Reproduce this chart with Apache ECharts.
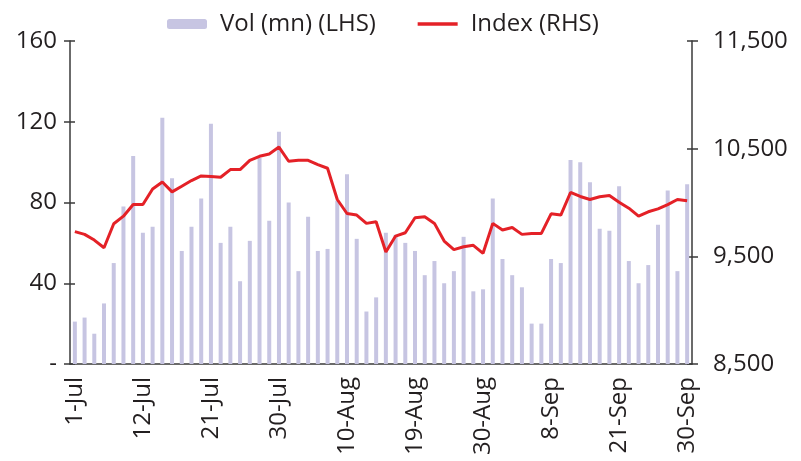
<!DOCTYPE html>
<html>
<head>
<meta charset="utf-8">
<script src="https://cdn.jsdelivr.net/npm/echarts@6/dist/echarts.min.js"></script>
<style>
  html, body { margin: 0; padding: 0; background: #fff; }
  #main { width: 801px; height: 461px; }
</style>
</head>
<body>
<div id="main"></div>
<script>
// trading days, 1-Jul to 30-Sep
var dates = [
  '1-Jul','2-Jul','5-Jul','6-Jul','7-Jul','8-Jul','9-Jul',
  '12-Jul','13-Jul','14-Jul','15-Jul','16-Jul','19-Jul','20-Jul',
  '21-Jul','22-Jul','23-Jul','26-Jul','27-Jul','28-Jul','29-Jul',
  '30-Jul','2-Aug','3-Aug','4-Aug','5-Aug','6-Aug','9-Aug',
  '10-Aug','11-Aug','12-Aug','13-Aug','16-Aug','17-Aug','18-Aug',
  '19-Aug','20-Aug','23-Aug','24-Aug','25-Aug','26-Aug','27-Aug',
  '30-Aug','31-Aug','1-Sep','2-Sep','3-Sep','6-Sep','7-Sep',
  '8-Sep','13-Sep','14-Sep','15-Sep','16-Sep','17-Sep','20-Sep',
  '21-Sep','22-Sep','23-Sep','24-Sep','27-Sep','28-Sep','29-Sep',
  '30-Sep'
];

// volume, mn (left axis)
var volume = [
  21, 23, 15, 30, 50, 78, 103, 65, 68, 122, 92, 56, 68, 82,
  119, 60, 68, 41, 61, 102, 71, 115, 80, 46, 73, 56, 57, 81,
  94, 62, 26, 33, 65, 64, 60, 56, 44, 51, 40, 46, 63, 36,
  37, 82, 52, 44, 38, 20, 20, 52, 50, 101, 100, 90, 67, 66,
  88, 51, 40, 49, 69, 86, 46, 89
];

// index level (right axis)
var index = [
  9729, 9704, 9651, 9580, 9803, 9873, 9981, 9981, 10126, 10191, 10099, 10151, 10204, 10247,
  10241, 10235, 10306, 10306, 10392, 10429, 10451, 10515, 10383, 10392, 10392, 10352, 10318, 10028,
  9898, 9883, 9806, 9821, 9540, 9688, 9719, 9858, 9867, 9806, 9642, 9562, 9589, 9602,
  9528, 9806, 9744, 9768, 9704, 9713, 9713, 9895, 9883, 10093, 10056, 10028, 10053, 10065,
  10003, 9947, 9873, 9914, 9941, 9981, 10028, 10016
];

var font = 'Open Sans';
var fontSize = 24;
var textColor = '#231f20';
var axisColor = '#3a3a3a';

var myChart = echarts.init(document.getElementById('main'));

var option = {
  animation: false,
  textStyle: { fontFamily: font },
  legend: {
    left: 162,
    top: 7,
    itemWidth: 40,
    itemHeight: 10,
    itemGap: 40,
    textStyle: { fontFamily: font, fontSize: fontSize, color: textColor, padding: [0, 0, 0, 8] },
    data: [
      { name: 'Vol (mn) (LHS)' },
      { name: 'Index (RHS)', itemStyle: { opacity: 0 }, lineStyle: { width: 3.5 } }
    ]
  },
  grid: { left: 70, right: 109, top: 41, bottom: 97 },
  xAxis: {
    type: 'category',
    data: dates,
    boundaryGap: true,
    axisLine: { lineStyle: { color: axisColor, width: 1.5 } },
    axisTick: { show: false },
    axisLabel: {
      interval: 6,
      rotate: 90,
      margin: 13,
      fontFamily: font,
      fontSize: fontSize,
      color: textColor
    }
  },
  yAxis: [
    {
      type: 'value',
      position: 'left',
      min: 0, max: 160, interval: 40,
      splitLine: { show: false },
      axisLine: { show: true, lineStyle: { color: axisColor, width: 1.5 } },
      axisTick: { show: true, length: 6, lineStyle: { color: axisColor, width: 1.5 } },
      axisLabel: {
        margin: 13,
        fontFamily: font, fontSize: fontSize, color: textColor,
        formatter: function (v) { return v === 0 ? '-' : v; }
      }
    },
    {
      type: 'value',
      position: 'right',
      min: 8500, max: 11500, interval: 1000,
      splitLine: { show: false },
      axisLine: { show: true, lineStyle: { color: axisColor, width: 1.5 } },
      axisTick: { show: true, length: 6, lineStyle: { color: axisColor, width: 1.5 } },
      axisLabel: {
        margin: 21,
        fontFamily: font, fontSize: fontSize, color: textColor,
        formatter: function (v) { return v.toLocaleString('en-US'); }
      }
    },
    // overlays, so the ticks cross the axis lines
    {
      type: 'value', position: 'left',
      min: 0, max: 160, interval: 40,
      splitLine: { show: false }, axisLine: { show: false }, axisLabel: { show: false },
      axisTick: { show: true, inside: true, length: 5, lineStyle: { color: axisColor, width: 1.5 } }
    },
    {
      type: 'value', position: 'right',
      min: 8500, max: 11500, interval: 1000,
      splitLine: { show: false }, axisLine: { show: false }, axisLabel: { show: false },
      axisTick: { show: true, inside: true, length: 5, lineStyle: { color: axisColor, width: 1.5 } }
    }
  ],
  series: [
    {
      name: 'Vol (mn) (LHS)',
      type: 'bar',
      yAxisIndex: 0,
      barWidth: 4,
      itemStyle: { color: '#c7c5e2' },
      data: volume
    },
    {
      name: 'Index (RHS)',
      type: 'line',
      yAxisIndex: 1,
      symbol: 'none',
      lineStyle: { color: '#e42127', width: 3 },
      itemStyle: { color: '#e42127' },
      data: index
    }
  ]
};

myChart.setOption(option);
</script>
</body>
</html>
